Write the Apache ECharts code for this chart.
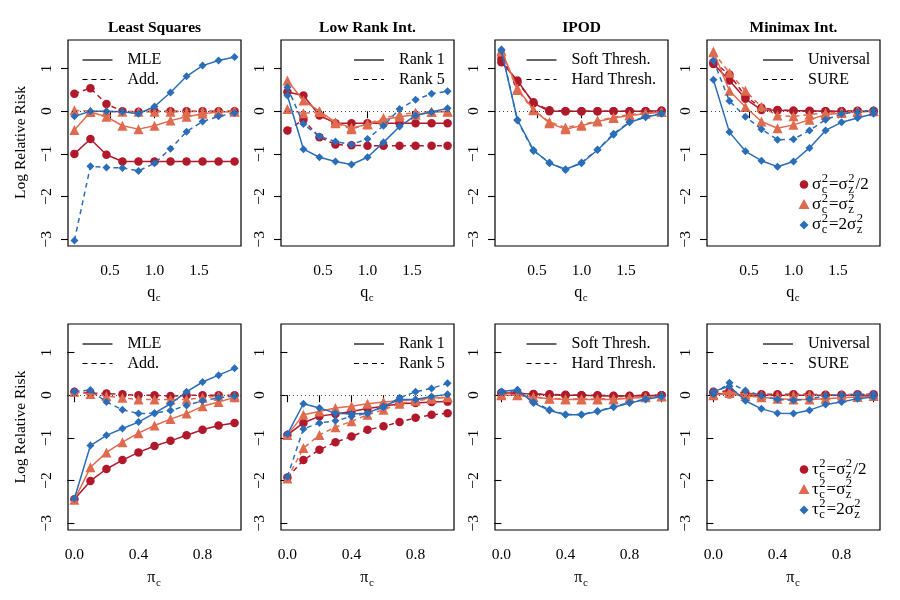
<!DOCTYPE html>
<html lang="en">
<head>
<meta charset="UTF-8">
<title>Log Relative Risk</title>
<script src="https://cdn.jsdelivr.net/npm/echarts@6/dist/echarts.min.js"></script>
<style>
  body { margin: 0; background: #fff; }
  #main { width: 900px; height: 600px; }
</style>
</head>
<body>
<div id="main"></div>
<script>
// x values
var qc = [0.1, 0.28, 0.46, 0.64, 0.82, 1.0, 1.18, 1.36, 1.54, 1.72, 1.9];
var pic = [0, 0.1, 0.2, 0.3, 0.4, 0.5, 0.6, 0.7, 0.8, 0.9, 1.0];
var qTicks = [0.5, 1.0, 1.5];
var piTicks = [0, 0.2, 0.4, 0.6, 0.8, 1.0];
var piLabels = [0, 0.4, 0.8];
var yTicks = [-3, -2, -1, 0, 1];

// top row, against q_c
var lsQRedMLE = [-1.0, -0.65, -1.02, -1.18, -1.18, -1.18, -1.18, -1.18, -1.18, -1.18, -1.18];
var lsQRedAdd = [0.41, 0.54, 0.17, 0.0, -0.01, 0.0, 0.0, 0.0, 0.0, 0.0, 0.0];
var lsQOrgMLE = [-0.44, -0.02, -0.13, -0.34, -0.42, -0.34, -0.22, -0.13, -0.06, -0.02, -0.01];
var lsQOrgAdd = [0.02, 0.0, -0.01, -0.01, -0.01, -0.01, -0.01, -0.01, 0.0, 0.0, 0.0];
var lsQBluMLE = [-0.12, 0.0, 0.0, -0.01, -0.06, 0.11, 0.44, 0.82, 1.07, 1.19, 1.27];
var lsQBluAdd = [-3.03, -1.29, -1.32, -1.33, -1.40, -1.22, -0.88, -0.48, -0.24, -0.12, -0.04];

var lrQRedR1 = [0.45, 0.37, -0.1, -0.28, -0.28, -0.28, -0.28, -0.28, -0.28, -0.28, -0.28];
var lrQRedR5 = [-0.45, -0.2, -0.61, -0.78, -0.8, -0.81, -0.81, -0.81, -0.81, -0.81, -0.81];
var lrQOrgR1 = [0.72, 0.25, 0.0, -0.26, -0.39, -0.31, -0.2, -0.13, -0.08, -0.02, -0.01];
var lrQOrgR5 = [0.05, -0.05, -0.02, -0.28, -0.42, -0.3, -0.16, -0.08, -0.03, -0.01, 0.0];
var lrQBluR1 = [0.37, -0.89, -1.08, -1.18, -1.25, -1.08, -0.73, -0.36, -0.1, -0.02, 0.07];
var lrQBluR5 = [0.56, -0.3, -0.59, -0.71, -0.78, -0.65, -0.34, 0.05, 0.27, 0.41, 0.47];

var ipQRedSoft = [1.15, 0.72, 0.19, 0.0, 0.0, 0.0, 0.0, 0.0, 0.0, 0.0, 0.01];
var ipQRedHard = [1.23, 0.68, 0.21, 0.02, 0.0, 0.0, 0.0, 0.0, 0.0, 0.0, 0.01];
var ipQOrgSoft = [1.43, 0.53, 0.04, -0.28, -0.42, -0.34, -0.24, -0.16, -0.1, -0.06, -0.02];
var ipQOrgHard = [1.4, 0.5, 0.02, -0.25, -0.38, -0.32, -0.22, -0.14, -0.08, -0.04, -0.02];
var ipQBluSoft = [1.42, -0.2, -0.91, -1.22, -1.36, -1.22, -0.91, -0.55, -0.26, -0.14, -0.06];
var ipQBluHard = [1.45, -0.22, -0.93, -1.2, -1.38, -1.2, -0.9, -0.53, -0.25, -0.13, -0.05];

var mmQRedUni = [1.11, 0.72, 0.29, 0.03, 0.02, 0.01, 0.01, 0.0, 0.0, 0.0, 0.0];
var mmQRedSure = [1.15, 0.86, 0.35, 0.08, 0.03, 0.01, 0.0, 0.0, 0.0, 0.01, 0.01];
var mmQOrgUni = [1.4, 0.48, 0.1, -0.24, -0.4, -0.32, -0.2, -0.08, -0.04, -0.02, 0.0];
var mmQOrgSure = [1.38, 0.9, 0.48, 0.1, -0.1, -0.12, -0.08, -0.04, -0.02, 0.0, 0.01];
var mmQBluUni = [0.74, -0.49, -0.94, -1.16, -1.3, -1.18, -0.86, -0.45, -0.26, -0.16, -0.06];
var mmQBluSure = [1.19, 0.24, -0.13, -0.42, -0.67, -0.66, -0.45, -0.2, -0.06, -0.02, 0.02];

// bottom row, against pi_c
var lsPRedMLE = [-2.44, -2.01, -1.73, -1.52, -1.34, -1.19, -1.07, -0.94, -0.81, -0.71, -0.65];
var lsPRedAdd = [0.08, 0.05, 0.04, 0.02, 0.0, 0.0, -0.02, 0.0, 0.0, 0.0, 0.0];
var lsPOrgMLE = [-2.45, -1.69, -1.34, -1.1, -0.89, -0.71, -0.56, -0.43, -0.26, -0.16, -0.05];
var lsPOrgAdd = [0.08, 0.03, -0.02, -0.06, -0.1, -0.1, -0.1, -0.1, -0.06, -0.02, -0.01];
var lsPBluMLE = [-2.42, -1.18, -0.94, -0.78, -0.63, -0.42, -0.2, 0.08, 0.31, 0.47, 0.63];
var lsPBluAdd = [0.09, 0.12, -0.16, -0.34, -0.43, -0.42, -0.36, -0.24, -0.13, -0.06, -0.02];

var lrPRedR1 = [-0.93, -0.65, -0.49, -0.44, -0.38, -0.31, -0.26, -0.2, -0.18, -0.16, -0.15];
var lrPRedR5 = [-1.93, -1.52, -1.28, -1.1, -0.97, -0.81, -0.73, -0.63, -0.53, -0.46, -0.42];
var lrPOrgR1 = [-0.93, -0.46, -0.38, -0.3, -0.26, -0.2, -0.16, -0.13, -0.1, -0.07, -0.05];
var lrPOrgR5 = [-1.95, -1.24, -0.93, -0.75, -0.61, -0.46, -0.34, -0.2, -0.13, -0.08, -0.04];
var lrPBluR1 = [-0.91, -0.2, -0.3, -0.42, -0.44, -0.42, -0.26, -0.1, -0.1, -0.03, 0.02];
var lrPBluR5 = [-1.91, -0.79, -0.65, -0.6, -0.5, -0.42, -0.28, -0.06, 0.08, 0.16, 0.28];

var ipPRedSoft = [0.05, 0.05, 0.02, 0.01, 0.0, 0.0, -0.01, -0.02, -0.02, -0.01, 0.0];
var ipPRedHard = [0.06, 0.04, 0.03, 0.02, 0.01, 0.0, 0.0, -0.01, -0.01, 0.0, 0.0];
var ipPOrgSoft = [0.0, 0.0, -0.05, -0.08, -0.1, -0.1, -0.1, -0.1, -0.07, -0.05, -0.03];
var ipPOrgHard = [0.02, 0.01, -0.04, -0.07, -0.09, -0.09, -0.09, -0.08, -0.06, -0.04, -0.02];
var ipPBluSoft = [0.09, 0.13, -0.18, -0.36, -0.46, -0.46, -0.38, -0.28, -0.18, -0.1, -0.03];
var ipPBluHard = [0.07, 0.11, -0.16, -0.34, -0.45, -0.45, -0.37, -0.27, -0.17, -0.09, -0.02];

var mmPRedUni = [0.05, 0.02, 0.0, 0.0, 0.0, 0.0, 0.0, 0.0, 0.0, 0.0, 0.0];
var mmPRedSure = [0.08, 0.1, 0.05, 0.02, 0.02, 0.02, 0.02, 0.01, 0.01, 0.02, 0.02];
var mmPOrgUni = [0.0, 0.05, -0.02, -0.05, -0.08, -0.1, -0.1, -0.08, -0.06, -0.04, -0.02];
var mmPOrgSure = [0.02, 0.08, 0.03, 0.0, -0.01, 0.0, 0.0, 0.0, 0.01, 0.01, 0.02];
var mmPBluUni = [0.09, 0.21, -0.13, -0.32, -0.42, -0.43, -0.35, -0.22, -0.16, -0.08, -0.04];
var mmPBluSure = [0.02, 0.29, 0.11, -0.01, -0.1, -0.12, -0.09, -0.01, 0.0, 0.02, 0.02];

var FONT = '"Liberation Serif", "DejaVu Serif", serif';
var RED = '#B2182B', ORANGE = '#E06A4E', BLUE = '#2A6DB8';
var colors = [RED, ORANGE, BLUE];
var symbols = [['circle', 8.5], ['triangle', 10], ['diamond', 8]];

var lefts = [68, 281, 495, 707];
var tops = [40, 324];
var W = 173, H = 206;
var legendOff = [14.5, 73, 31.5, 56];

var panels = [
  { title: 'Least Squares', solid: 'MLE', dash: 'Add.', xs: qc,
    data: [[lsQRedMLE, lsQRedAdd], [lsQOrgMLE, lsQOrgAdd], [lsQBluMLE, lsQBluAdd]] },
  { title: 'Low Rank Int.', solid: 'Rank 1', dash: 'Rank 5', xs: qc,
    data: [[lrQRedR1, lrQRedR5], [lrQOrgR1, lrQOrgR5], [lrQBluR1, lrQBluR5]] },
  { title: 'IPOD', solid: 'Soft Thresh.', dash: 'Hard Thresh.', xs: qc,
    data: [[ipQRedSoft, ipQRedHard], [ipQOrgSoft, ipQOrgHard], [ipQBluSoft, ipQBluHard]] },
  { title: 'Minimax Int.', solid: 'Universal', dash: 'SURE', xs: qc,
    data: [[mmQRedUni, mmQRedSure], [mmQOrgUni, mmQOrgSure], [mmQBluUni, mmQBluSure]] },
  { solid: 'MLE', dash: 'Add.', xs: pic,
    data: [[lsPRedMLE, lsPRedAdd], [lsPOrgMLE, lsPOrgAdd], [lsPBluMLE, lsPBluAdd]] },
  { solid: 'Rank 1', dash: 'Rank 5', xs: pic,
    data: [[lrPRedR1, lrPRedR5], [lrPOrgR1, lrPOrgR5], [lrPBluR1, lrPBluR5]] },
  { solid: 'Soft Thresh.', dash: 'Hard Thresh.', xs: pic,
    data: [[ipPRedSoft, ipPRedHard], [ipPOrgSoft, ipPOrgHard], [ipPBluSoft, ipPBluHard]] },
  { solid: 'Universal', dash: 'SURE', xs: pic,
    data: [[mmPRedUni, mmPRedSure], [mmPOrgUni, mmPOrgSure], [mmPBluUni, mmPBluSure]] }
];

// text helpers for the small math labels
var measure = document.createElement('canvas').getContext('2d');
function tw(s, size) {
  measure.font = size + 'px ' + FONT;
  return measure.measureText(s).width;
}
function txt(x, y, s, size, align, bold) {
  var font = (bold ? 'bold ' : '') + size + 'px ' + FONT;
  return { type: 'text', x: x, y: y, silent: true,
    style: { text: s, font: font, fill: '#000', textAlign: align, align: align,
             textVerticalAlign: 'middle', verticalAlign: 'middle' } };
}
function mathGroup(parts, size, ratio) {
  var children = [], cx = 0, small = size * (ratio || 0.68);
  parts.forEach(function (p) {
    if (typeof p === 'string') {
      children.push(txt(cx, 0, p, size, 'left'));
      cx += tw(p, size);
    } else {
      var w = 0;
      if (p.sup) { children.push(txt(cx + 0.5, -size * 0.36, p.sup, small, 'left')); w = Math.max(w, tw(p.sup, small)); }
      if (p.sub) { children.push(txt(cx + 0.5, size * 0.3, p.sub, small, 'left')); w = Math.max(w, tw(p.sub, small)); }
      cx += w + 1.5;
    }
  });
  return { children: children, width: cx };
}

var grids = [], xAxes = [], yAxes = [], series = [], graphics = [];

panels.forEach(function (p, i) {
  var col = i % 4, row = Math.floor(i / 4);
  var left = lefts[col], top = tops[row];
  var isQ = row === 0;
  grids.push({ left: left, top: top, width: W, height: H, show: true,
               borderColor: '#000', borderWidth: 1.2, backgroundColor: 'transparent' });
  xAxes.push({
    gridIndex: i, type: 'value',
    min: isQ ? 0.028 : -0.04, max: isQ ? 1.972 : 1.04,
    axisLine: { show: false },
    axisTick: { show: true, length: 7, customValues: isQ ? qTicks : piTicks,
                lineStyle: { color: '#000', width: 1.1 } },
    axisLabel: { customValues: isQ ? qTicks : piLabels, color: '#000', fontFamily: FONT,
                 fontSize: 15.5, margin: 17,
                 formatter: function (v) { return v.toFixed(1); } },
    splitLine: { show: false }
  });
  yAxes.push({
    gridIndex: i, type: 'value', min: -3.16, max: 1.67,
    axisLine: { show: false },
    axisTick: { show: true, length: 7, customValues: yTicks,
                lineStyle: { color: '#000', width: 1.1 } },
    axisLabel: { customValues: yTicks, rotate: 90, color: '#000', fontFamily: FONT,
                 fontSize: 15.5, margin: 13,
                 formatter: function (v) { return v < 0 ? '\u2212' + Math.abs(v) : String(v); } },
    splitLine: { show: false }
  });

  p.data.forEach(function (pair, c) {
    pair.forEach(function (ys, d) {
      var s = {
        type: 'line', xAxisIndex: i, yAxisIndex: i,
        data: p.xs.map(function (x, k) { return [x, ys[k]]; }),
        symbol: symbols[c][0], symbolSize: symbols[c][1],
        showSymbol: true, animation: false, silent: true,
        lineStyle: { color: colors[c], width: 1.5, type: d === 0 ? 'solid' : [5, 4] },
        itemStyle: { color: colors[c] },
        emphasis: { disabled: true },
        z: 2 + c
      };
      if (c === 0 && d === 0) {
        s.markLine = { silent: true, symbol: 'none', label: { show: false },
                       lineStyle: { type: [1, 3], color: '#444', width: 1 },
                       data: [{ yAxis: 0 }], animation: false };
      }
      series.push(s);
    });
  });

  // panel title
  if (p.title) graphics.push(txt(left + W / 2, 28, p.title, 15.5, 'center', true));

  // line-type legend
  var lx = left + legendOff[col];
  graphics.push({ type: 'line', silent: true, shape: { x1: lx, y1: top + 20, x2: lx + 30, y2: top + 20 },
                  style: { stroke: '#000', lineWidth: 1.2 } });
  graphics.push({ type: 'line', silent: true, shape: { x1: lx, y1: top + 39.5, x2: lx + 30, y2: top + 39.5 },
                  style: { stroke: '#000', lineWidth: 1.2, lineDash: [5, 4] } });
  graphics.push(txt(lx + 45, top + 20, p.solid, 16, 'left'));
  graphics.push(txt(lx + 45, top + 39.5, p.dash, 16, 'left'));

  // x-axis title with subscript
  var m = mathGroup([isQ ? 'q' : '\u03c0', { sub: 'c' }], 16);
  graphics.push({ type: 'group', x: left + W / 2 - m.width / 2, y: isQ ? 293 : 578, children: m.children });
});

// y-axis titles
[142.5, 427].forEach(function (cy) {
  var t = txt(21, cy, 'Log Relative Risk', 15.5, 'center');
  t.rotation = Math.PI / 2;
  graphics.push(t);
});

// marker legend in the rightmost panels
function markerLegend(first, rowsY) {
  var rows = [
    [first, { sup: '2', sub: 'c' }, '=\u03c3', { sup: '2', sub: 'z' }, '/2'],
    [first, { sup: '2', sub: 'c' }, '=\u03c3', { sup: '2', sub: 'z' }],
    [first, { sup: '2', sub: 'c' }, '=2\u03c3', { sup: '2', sub: 'z' }]
  ];
  var sx = 804;
  rowsY.forEach(function (y, r) {
    if (r === 0) graphics.push({ type: 'circle', silent: true, shape: { cx: sx, cy: y, r: 4.3 }, style: { fill: RED } });
    if (r === 1) graphics.push({ type: 'polygon', silent: true, shape: { points: [[sx, y - 5.5], [sx + 5.5, y + 4.5], [sx - 5.5, y + 4.5]] }, style: { fill: ORANGE } });
    if (r === 2) graphics.push({ type: 'polygon', silent: true, shape: { points: [[sx, y - 4.5], [sx + 4.5, y], [sx, y + 4.5], [sx - 4.5, y]] }, style: { fill: BLUE } });
    var g = mathGroup(rows[r], 17, 0.74);
    graphics.push({ type: 'group', x: 812, y: y, children: g.children });
  });
}
markerLegend('\u03c3', [184.5, 204.5, 225]);
markerLegend('\u03c4', [469.5, 489.5, 510]);

var myChart = echarts.init(document.getElementById('main'), null, { renderer: 'canvas' });
myChart.setOption({
  backgroundColor: '#fff',
  animation: false,
  grid: grids,
  xAxis: xAxes,
  yAxis: yAxes,
  series: series,
  graphic: graphics
});
</script>
</body>
</html>
